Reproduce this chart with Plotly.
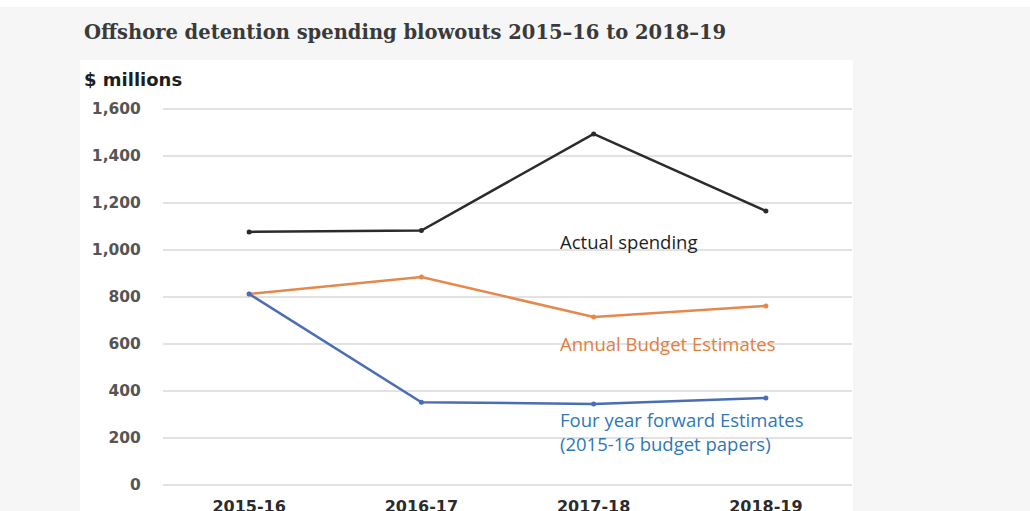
import plotly.graph_objects as go

years = ["2015-16", "2016-17", "2017-18", "2018-19"]
actual = [1077, 1083, 1494, 1166]
annual_budget = [813, 885, 715, 762]
forward_est = [813, 352, 345, 370]

y_ticks = [0, 200, 400, 600, 800, 1000, 1200, 1400, 1600]
y_tick_text = ["0", "200", "400", "600", "800", "1,000", "1,200", "1,400", "1,600"]

W, H = 1030, 511
L, R, T, B = 163, 178, 95, 16
PW, PH = W - L - R, H - T - B


def px(x):
    return (x - L) / PW


def py(y):
    return (H - B - y) / PH


fig = go.Figure()
series = [
    ("Actual spending", actual, "#2b2b2b"),
    ("Annual Budget Estimates", annual_budget, "#E5884B"),
    ("Four year forward Estimates", forward_est, "#4A6DB3"),
]
for name, vals, col in series:
    fig.add_trace(go.Scatter(
        x=years, y=vals, mode="lines+markers", name=name,
        line=dict(color=col, width=2.5),
        marker=dict(color=col, size=5),
        showlegend=False,
    ))

shapes = [
    dict(type="rect", xref="paper", yref="paper", x0=px(80), x1=px(853),
         y0=py(511), y1=py(60), fillcolor="white", line=dict(width=0), layer="below"),
    dict(type="rect", xref="paper", yref="paper", x0=px(0), x1=px(1030),
         y0=py(7), y1=py(0), fillcolor="white", line=dict(width=0), layer="below"),
]

annotations = [
    dict(text="<b>Offshore detention spending blowouts 2015–16 to 2018–19</b>",
         xref="paper", yref="paper", x=px(82), y=py(32), xanchor="left", yanchor="middle",
         showarrow=False, font=dict(family="DejaVu Serif", size=19.5, color="#3a3a3a")),
    dict(text="<b>$ millions</b>", xref="paper", yref="paper", x=px(82), y=py(80),
         xanchor="left", yanchor="middle", showarrow=False,
         font=dict(family="DejaVu Sans", size=18, color="#1e1e1e")),
    dict(text="Actual spending", xref="x", yref="y", x=1.794, y=1038,
         xanchor="left", yanchor="middle", showarrow=False,
         font=dict(family="Open Sans", size=18.5, color="#1e1e1e")),
    dict(text="Annual Budget Estimates", xref="x", yref="y", x=1.794, y=604,
         xanchor="left", yanchor="middle", showarrow=False,
         font=dict(family="Open Sans", size=18.5, color="#E0803F")),
    dict(text="Four year forward Estimates<br>(2015-16 budget papers)", xref="x", yref="y",
         x=1.794, y=226, xanchor="left", yanchor="middle", align="left", showarrow=False,
         font=dict(family="Open Sans", size=18.5, color="#2F78B8")),
]

fig.update_layout(
    width=W, height=H,
    margin=dict(l=L, r=R, t=T, b=B, pad=0),
    paper_bgcolor="#f6f6f6",
    plot_bgcolor="white",
    shapes=shapes,
    annotations=annotations,
    xaxis=dict(
        type="category", range=[-0.5, 3.5], showgrid=False, zeroline=False,
        showline=False, ticks="", automargin=False,
        tickfont=dict(family="DejaVu Sans", size=16, color="#2b2b2b", weight="bold"),
    ),
    yaxis=dict(
        range=[-42.6, 1659.6], tickvals=y_ticks, ticktext=y_tick_text,
        showgrid=True, gridcolor="#e2e2e2", gridwidth=2, zeroline=False,
        showline=False, ticks="outside", ticklen=18, tickcolor="rgba(0,0,0,0)",
        automargin=False,
        tickfont=dict(family="DejaVu Sans", size=15.5, color="#555555", weight="bold"),
    ),
)

fig.write_html("out.html")
